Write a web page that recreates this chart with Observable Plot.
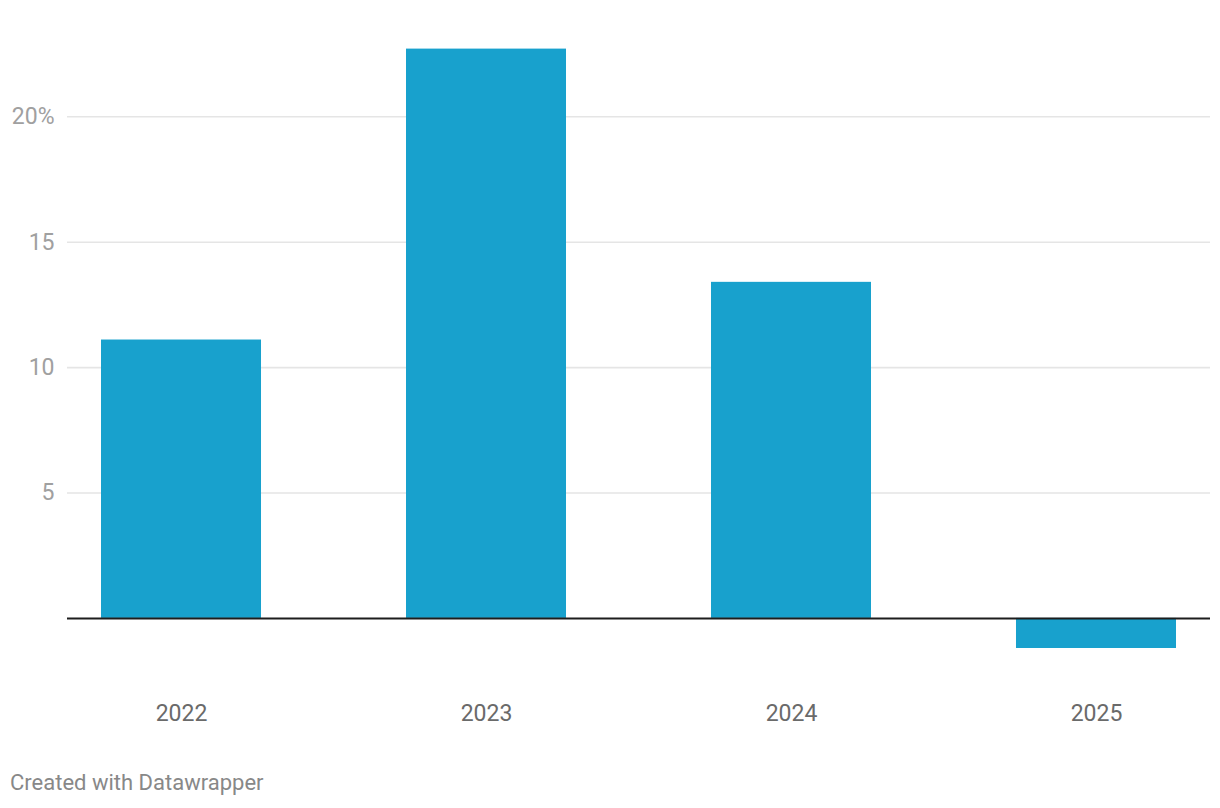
<!DOCTYPE html>
<html>
<head>
<meta charset="utf-8">
<script src="https://cdn.jsdelivr.net/npm/d3@7"></script>
<script src="https://cdn.jsdelivr.net/npm/@observablehq/plot@0.6"></script>
<style>
  html, body { margin: 0; padding: 0; background: #fff; }
  body { width: 1220px; height: 808px; font-family: Roboto, sans-serif; position: relative; overflow: hidden; }
  #chart svg { display: block; }
  #caption { position: absolute; left: 10px; top: 770px; font-size: 22px; color: #888; font-family: Roboto, sans-serif; }
</style>
</head>
<body>
<div id="chart"></div>
<div id="caption">Created with Datawrapper</div>
<script>
const years = ["2022", "2023", "2024", "2025"];
const values = [11.1, 22.7, 13.4, -1.2];
const yTicks = [5, 10, 15, 20];
const yTickLabels = ["5", "10", "15", "20%"];

const data = years.map((year, i) => ({ year, value: values[i] }));

const chart = Plot.plot({
  width: 1220,
  height: 740,
  marginTop: 16,
  marginBottom: 92,
  marginLeft: 67,
  marginRight: 10,
  style: { fontFamily: "Roboto, sans-serif", background: "#fff" },
  x: { domain: years, paddingInner: 0.4754, paddingOuter: 0.1115, round: false, label: null },
  y: { domain: [-1.2, 24], label: null },
  marks: [
    Plot.ruleY(yTicks, { stroke: "#e5e5e5", strokeWidth: 1.6 }),
    Plot.barY(data, { x: "year", y: "value", fill: "#18a1cd" }),
    Plot.ruleY([0], { stroke: "#1d1d1d", strokeWidth: 2 }),
    Plot.axisY(yTicks, {
      tickSize: 0, tickPadding: 13, fontSize: 23, color: "#a0a0a0",
      tickFormat: d => yTickLabels[yTicks.indexOf(d)], label: null
    }),
    Plot.axisX({
      tickSize: 0, tickPadding: 56, fontSize: 23, color: "#6a6a6a", label: null
    })
  ]
});
document.getElementById("chart").appendChild(chart);
</script>
</body>
</html>
